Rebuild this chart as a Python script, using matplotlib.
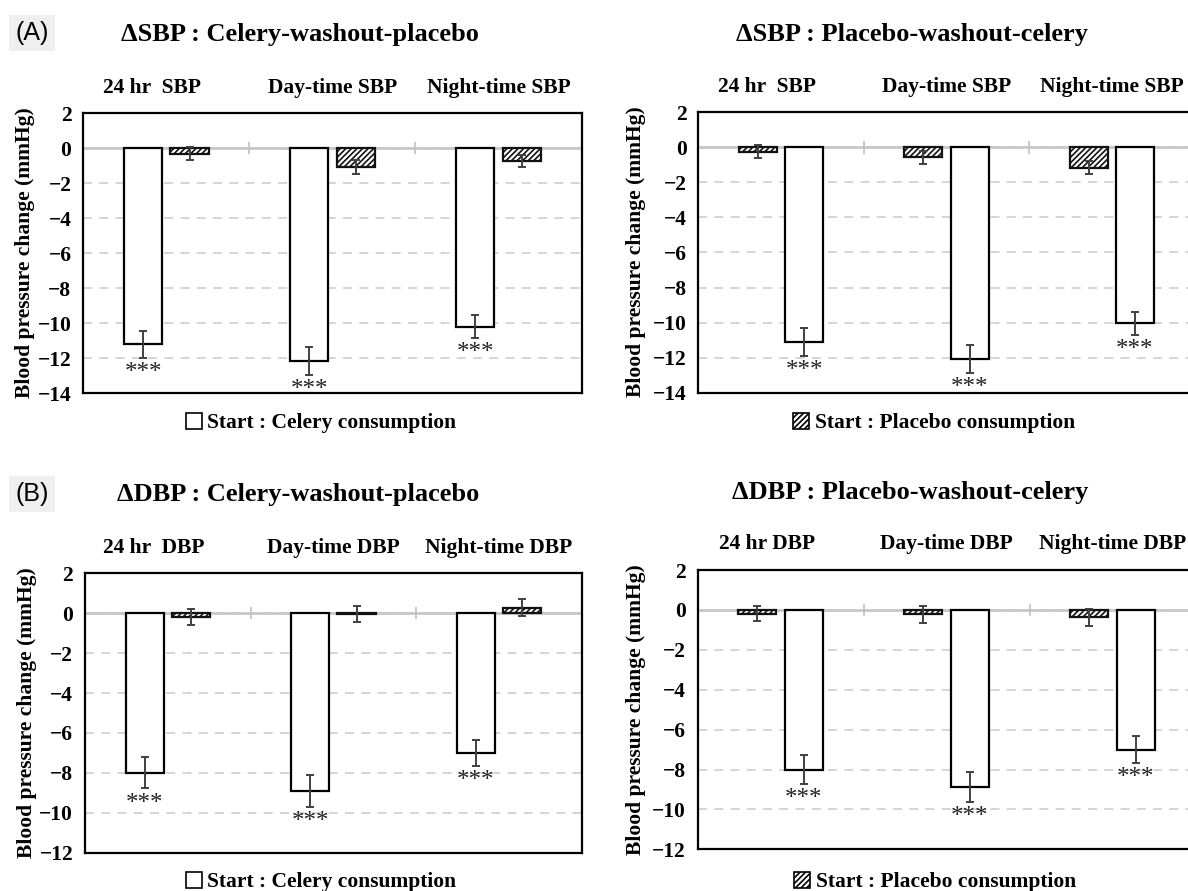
import matplotlib
matplotlib.use("Agg")
import matplotlib.pyplot as plt
from matplotlib.patches import Patch
import numpy as np

# ---------------- data ----------------
sbp_categories_left = ["24 hr  SBP", "Day-time SBP", "Night-time SBP"]
sbp_categories_right = ["24 hr  SBP", "Day-time SBP", "Night-time SBP"]
dbp_categories_left = ["24 hr  DBP", "Day-time DBP", "Night-time DBP"]
dbp_categories_right = ["24 hr DBP", "Day-time DBP", "Night-time DBP"]

# (A) SBP, celery-washout-placebo
sbp_cf_celery = [-11.2, -12.15, -10.2]
sbp_cf_celery_err = [0.78, 0.80, 0.65]
sbp_cf_placebo = [-0.30, -1.07, -0.72]
sbp_cf_placebo_err = [0.37, 0.40, 0.33]

# (A) SBP, placebo-washout-celery
sbp_pf_placebo = [-0.25, -0.57, -1.15]
sbp_pf_placebo_err = [0.37, 0.38, 0.37]
sbp_pf_celery = [-11.1, -12.07, -10.05]
sbp_pf_celery_err = [0.80, 0.80, 0.66]

# (B) DBP, celery-washout-placebo
dbp_cf_celery = [-8.0, -8.9, -7.0]
dbp_cf_celery_err = [0.78, 0.81, 0.65]
dbp_cf_placebo = [-0.20, -0.05, 0.27]
dbp_cf_placebo_err = [0.40, 0.41, 0.42]

# (B) DBP, placebo-washout-celery
dbp_pf_placebo = [-0.20, -0.22, -0.36]
dbp_pf_placebo_err = [0.38, 0.42, 0.43]
dbp_pf_celery = [-8.0, -8.87, -7.0]
dbp_pf_celery_err = [0.72, 0.74, 0.68]

significance = ["***", "***", "***"]

titles = ["\u0394SBP : Celery-washout-placebo", "\u0394SBP : Placebo-washout-celery",
          "\u0394DBP : Celery-washout-placebo", "\u0394DBP : Placebo-washout-celery"]
legend_celery = "Start : Celery consumption"
legend_placebo = "Start : Placebo consumption"
ylabel = "Blood pressure change (mmHg)"

# ---------------- style ----------------
plt.rcParams["font.family"] = ["Liberation Serif", "DejaVu Serif"]
plt.rcParams["hatch.linewidth"] = 1.2
plt.rcParams["axes.unicode_minus"] = True

W, H = 1188, 891
fig = plt.figure(figsize=(W / 100, H / 100), dpi=100)


def px(x, y):
    return x / W, 1 - y / H


CELERY = dict(facecolor="white", edgecolor="black", hatch=None)
PLACEBO = dict(facecolor="white", edgecolor="#111111", hatch="//////")

BAR_W = 0.23
OFF = 0.14
ERR_C = "#404040"
FS = 15.5


def draw_panel(rect_px, cats, v1, e1, s1, v2, e2, s2, ymin, sig_on_second):
    x0, y0, x1, y1 = rect_px
    l, b = x0 / W, 1 - y1 / H
    ax = fig.add_axes([l, b, (x1 - x0) / W, (y1 - y0) / H])
    x = np.arange(len(cats))
    ax.set_xlim(-0.5, len(cats) - 0.5)
    ax.set_ylim(ymin, 2)
    ax.set_yticks(np.arange(ymin, 2.1, 2))
    ax.grid(axis="y", color="#d2d2d2", lw=1.3, ls=(0, (5, 4)))
    ax.set_axisbelow(True)
    ax.axhline(0, color="#c8c8c8", lw=2.0, zorder=1.5)
    h = 0.022 * (2 - ymin)
    ax.vlines([0.5, 1.5], -h, h, color="#c4c4c4", lw=1.3, zorder=1.5)

    for vals, errs, st, off in ((v1, e1, s1, -OFF), (v2, e2, s2, OFF)):
        ax.bar(x + off, vals, width=BAR_W, facecolor=st["facecolor"],
               edgecolor=st["edgecolor"], hatch=st["hatch"], lw=1.6, zorder=2)
        ax.errorbar(x + off, vals, yerr=errs, fmt="none", ecolor=ERR_C,
                    elinewidth=1.4, capsize=3.2, capthick=1.4, zorder=3)

    sv, se = (v2, e2) if sig_on_second else (v1, e1)
    so = OFF if sig_on_second else -OFF
    for i in range(len(cats)):
        ax.annotate(significance[i], xy=(x[i] + so, sv[i] - se[i]),
                    xytext=(0, -11), textcoords="offset points",
                    ha="center", va="center", fontsize=18, color="#222222")

    for i, c in enumerate(cats):
        dx = -10 if i == 0 else 0
        ax.annotate(c, xy=(x[i], 1), xycoords=("data", "axes fraction"),
                    xytext=(dx, 18.5), textcoords="offset points",
                    ha="center", va="center", fontsize=FS, fontweight="bold")

    ax.set_xticks([])
    ax.tick_params(axis="y", length=0, pad=8.5, labelsize=FS)
    for t in ax.get_yticklabels():
        t.set_fontweight("bold")
    for s in ax.spines.values():
        s.set_linewidth(1.6)
        s.set_color("black")
    return ax


# (A) left
draw_panel((83.3, 113.3, 581.5, 393.3), sbp_categories_left,
           sbp_cf_celery, sbp_cf_celery_err, CELERY,
           sbp_cf_placebo, sbp_cf_placebo_err, PLACEBO, -14, False)
# (A) right
draw_panel((698.5, 112.3, 1194.5, 392.7), sbp_categories_right,
           sbp_pf_placebo, sbp_pf_placebo_err, PLACEBO,
           sbp_pf_celery, sbp_pf_celery_err, CELERY, -14, True)
# (B) left
draw_panel((85.0, 573.3, 581.7, 852.7), dbp_categories_left,
           dbp_cf_celery, dbp_cf_celery_err, CELERY,
           dbp_cf_placebo, dbp_cf_placebo_err, PLACEBO, -12, False)
# (B) right
draw_panel((697.5, 570.0, 1195.5, 849.3), dbp_categories_right,
           dbp_pf_placebo, dbp_pf_placebo_err, PLACEBO,
           dbp_pf_celery, dbp_pf_celery_err, CELERY, -12, True)

# titles
for (tx, ty), t in zip([(300, 35), (912, 35), (298, 495), (910, 492)], titles):
    fig.text(*px(tx, ty), t, ha="center", va="center", fontsize=19, fontweight="bold")

# panel letters
for (tx, ty), t in zip([(32, 33), (32, 494)], ["(A)", "(B)"]):
    fig.text(*px(tx, ty), t, ha="center", va="center", fontsize=18,
             family=["Liberation Sans", "DejaVu Sans"],
             bbox=dict(boxstyle="square,pad=0.25", facecolor="#efefef", edgecolor="none"))

# y labels
for (tx, ty) in [(25, 253), (636, 252), (27, 713), (636, 710)]:
    fig.text(*px(tx, ty), ylabel, ha="center", va="center", rotation=90,
             fontsize=FS, fontweight="bold")

# legends
for (tx, ty), lab, st in zip([(321, 423), (934, 423), (321, 882), (935, 882)],
                             [legend_celery, legend_placebo, legend_celery, legend_placebo],
                             [CELERY, PLACEBO, CELERY, PLACEBO]):
    handle = Patch(facecolor="white", edgecolor="black", hatch=st["hatch"], lw=1.2)
    fig.legend([handle], [lab], loc="center", bbox_to_anchor=px(tx, ty),
               frameon=False, handlelength=0.75, handleheight=0.75,
               handletextpad=0.25, borderpad=0,
               prop=dict(size=FS, weight="bold"))

fig.savefig("out.png", dpi=100)
